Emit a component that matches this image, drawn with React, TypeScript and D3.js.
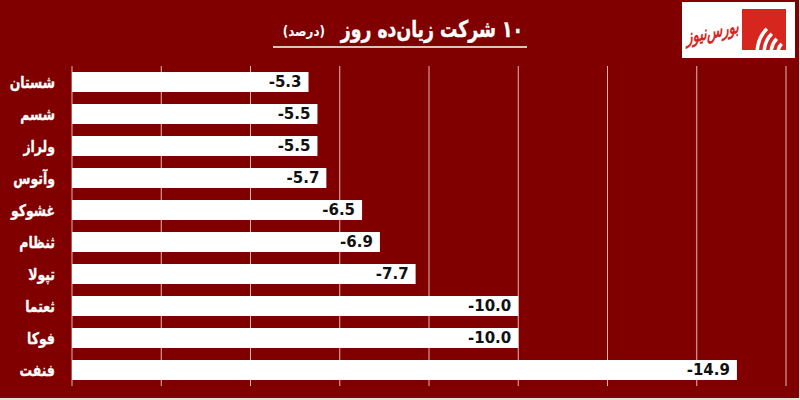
import React from "react";
import * as d3 from "d3";

const names = ["شستان", "شسم", "ولراز", "وآتوس", "غشوکو", "ثنظام", "تپولا", "ثعتما", "فوکا", "فنفت"];
const values = [-5.3, -5.5, -5.5, -5.7, -6.5, -6.9, -7.7, -10.0, -10.0, -14.9];
const gridTicks = [0, 2, 4, 6, 8, 10, 12, 14, 16];
const titleMain = "۱۰ شرکت زیان‌ده روز";
const titleUnit = "(درصد)";
const logoText = "بورس‌نیوز";

const W = 800;
const H = 400;
const BG = "#800000";
const FONT = "'DejaVu Sans', Verdana, sans-serif";

export default function App() {
  const x = d3.scaleLinear().domain([0, 16]).range([72, 786]);
  const y = d3
    .scaleBand<string>()
    .domain(names)
    .range([66, 386])
    .paddingInner(0.375)
    .paddingOuter(0.1875);

  const arc = d3.arc();
  const arcs = [10, 17, 24, 31].map((r) =>
    arc({ innerRadius: r, outerRadius: r + 3.5, startAngle: Math.PI * 1.0, endAngle: Math.PI * 1.75 }) as string
  );

  return (
    <svg
      width={W}
      height={H}
      style={{ position: "fixed", left: 0, top: 0, display: "block" }}
      xmlns="http://www.w3.org/2000/svg"
    >
      <defs>
        <clipPath id="logoClip">
          <rect x={742} y={9} width={44} height={41} />
        </clipPath>
      </defs>
      <rect x={0} y={0} width={W} height={H} fill="#e8e0e0" />
      <rect x={0} y={0} width={W - 1} height={H - 2} fill={BG} />

      {/* title */}
      <g transform="translate(523,37) scale(0.75,1)">
        <text
          x={0}
          y={0}
          direction="rtl"
          textAnchor="start"
          fill="#fff"
          fontFamily={FONT}
          fontWeight="bold"
          fontSize={23}
          stroke="#fff"
          strokeWidth={0.4}
        >
          {titleMain}
        </text>
      </g>
      <g transform="translate(325,36) scale(0.85,1)">
        <text
          x={0}
          y={0}
          direction="rtl"
          textAnchor="start"
          fill="#fff"
          fontFamily={FONT}
          fontWeight="bold"
          fontSize={14}
        >
          {titleUnit}
        </text>
      </g>
      <line x1={273} x2={527} y1={47} y2={47} stroke="#fff" strokeWidth={1.5} />

      {/* logo */}
      <rect x={682} y={2} width={113} height={56} fill="#fff" />
      <rect x={742} y={9} width={44} height={41} fill="#d7261e" />
      <g clipPath="url(#logoClip)">
        <g transform="translate(790,52)">
          {arcs.map((d, i) => (
            <path key={i} d={d} fill="#fff" />
          ))}
        </g>
      </g>
      <g transform="translate(713,38) scale(0.72,1.1) rotate(-8)">
        <text
          x={0}
          y={0}
          textAnchor="middle"
          fill="#d7261e"
          fontFamily={FONT}
          fontWeight="bold"
          fontStyle="italic"
          fontSize={18}
        >
          {logoText}
        </text>
      </g>

      {/* grid */}
      {gridTicks.map((t) => (
        <line
          key={t}
          x1={x(t)}
          x2={x(t)}
          y1={66}
          y2={386}
          stroke="#e6b4b4"
          strokeWidth={1}
        />
      ))}

      {/* bars */}
      {names.map((n, i) => {
        const v = Math.abs(values[i]);
        const y0 = y(n) as number;
        const bh = y.bandwidth();
        return (
          <g key={n}>
            <rect x={x(0)} y={y0} width={x(v) - x(0)} height={bh} fill="#fff" />
            <text
              x={x(v) - 7}
              y={y0 + bh / 2}
              dy="0.36em"
              textAnchor="end"
              fill="#111"
              fontFamily={FONT}
              fontWeight="bold"
              fontSize={15}
            >
              {values[i].toFixed(1)}
            </text>
            <g transform={`translate(55,${y0 + bh / 2}) scale(0.78,1)`}>
              <text
                x={0}
                y={0}
                dy="0.36em"
                textAnchor="end"
                fill="#fff"
                fontFamily={FONT}
                fontWeight="bold"
                fontSize={16}
                stroke="#fff"
                strokeWidth={0.3}
              >
                {n}
              </text>
            </g>
          </g>
        );
      })}
    </svg>
  );
}
